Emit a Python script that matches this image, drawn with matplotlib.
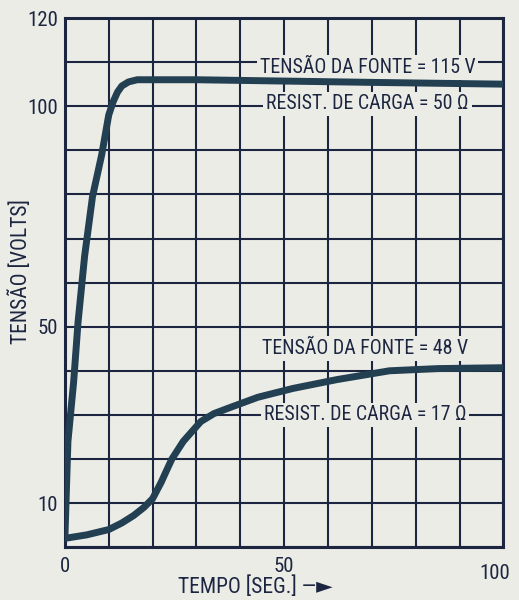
import numpy as np
import matplotlib
matplotlib.use("Agg")
import matplotlib.pyplot as plt
import matplotlib.transforms as mtransforms
from matplotlib import font_manager

# curve for 115 V source, 50 ohm load
t_115 = [0, 0.7, 2, 3, 4.5, 6.3, 8.4, 10, 11, 12, 13, 14.5, 16.5, 20, 30, 50, 70, 100]
v_115 = [2, 24, 37.5, 51, 66, 79.5, 89, 98, 101, 103.2, 104.6, 105.5, 106, 106, 106, 105.7, 105.4, 105]

# curve for 48 V source, 17 ohm load
t_48 = [0, 5, 10, 13, 15.7, 18, 20, 22, 23, 24.4, 27, 31, 34, 38, 44, 52, 62, 74, 85, 100]
v_48 = [2, 2.8, 4, 5.5, 7.2, 9, 11, 14.8, 17, 20, 24, 28.5, 30.3, 31.8, 34, 36, 38, 40, 40.5, 40.7]

x_ticks = [0, 50, 100]
y_ticks = [10, 50, 100, 120]

labels = [
    ("TENSÃO DA FONTE = 115 V", 69, 108.8),
    ("RESIST. DE CARGA = 50 Ω", 69, 100.5),
    ("TENSÃO DA FONTE = 48 V", 68.5, 45),
    ("RESIST. DE CARGA = 17 Ω", 68.5, 30),
]

bg = "#ECECE7"
ink = "#1c2640"
curve = "#233f52"

# narrow face if one is installed
names = {f.name for f in font_manager.fontManager.ttflist}
narrow = [n for n in ["Liberation Sans Narrow", "Roboto Condensed", "Open Sans Condensed"]
          if n in names]
font = narrow[:1] + ["DejaVu Sans"]
k = 1.0 if narrow else 0.82

fig = plt.figure(figsize=(5.19, 6.0), dpi=100, facecolor=bg)
ax = fig.add_axes([0.125, 0.088, 0.845, 0.882], facecolor=bg)

ax.plot(t_115, v_115, color=curve, lw=5, solid_capstyle="round",
        solid_joinstyle="round", zorder=4)
ax.plot(t_48, v_48, color=curve, lw=5, solid_capstyle="round",
        solid_joinstyle="round", zorder=4)

for txt, x, y in labels:
    ax.text(x, y, txt, ha="center", va="center", fontsize=14.3 * k, color=ink,
            family=font, zorder=3,
            bbox=dict(facecolor=bg, edgecolor="none", pad=2))

ax.set_xlim(0, 100)
ax.set_ylim(0, 120)
ax.set_xticks(np.arange(0, 101, 10), minor=True)
ax.set_yticks(np.arange(0, 121, 10), minor=True)
ax.set_xticks(x_ticks)
ax.set_yticks(y_ticks)
ax.grid(True, which="both", color=ink, lw=1.5)
ax.set_axisbelow(True)
ax.tick_params(which="both", length=0, colors=ink)
ax.tick_params(axis="x", pad=7)
ax.tick_params(axis="y", pad=5)
for lab in ax.get_xticklabels() + ax.get_yticklabels():
    lab.set_family(font)
    lab.set_fontsize(15 * k)
for s in ax.spines.values():
    s.set_color(ink)
    s.set_linewidth(2.2)

# keep the "100" inside the figure
last = ax.get_xticklabels()[-1]
last.set_transform(last.get_transform() +
                   mtransforms.ScaledTranslation(-6 / 72, -5 / 72, fig.dpi_scale_trans))

ax.set_xlabel("TEMPO [SEG.] —►", fontsize=15.5 * k, color=ink, family=font, va="center")
ax.xaxis.set_label_coords(0.435, -0.076)
ax.set_ylabel("TENSÃO [VOLTS]", fontsize=15.5 * k, color=ink, family=font, va="center")
ax.yaxis.set_label_coords(-0.10, 0.52)

fig.savefig("out.png", dpi=100, facecolor=bg)
